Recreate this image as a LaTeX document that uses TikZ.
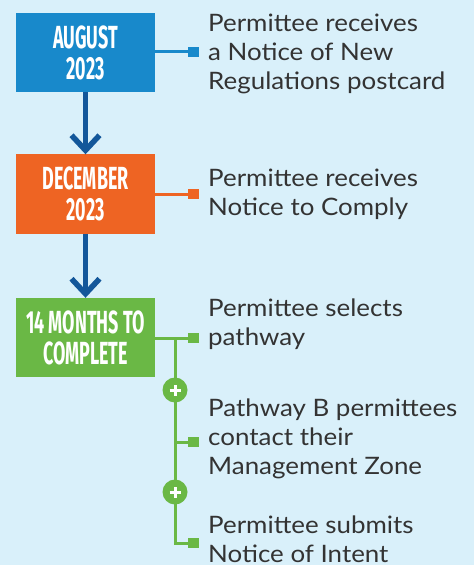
\documentclass[tikz,border=0pt]{standalone}
\usepackage{fontspec}
\setmainfont[FakeStretch=1.08]{Lato}
\newfontfamily\condfont[FakeStretch=0.56]{Fira Sans}
\usetikzlibrary{arrows.meta}
\definecolor{bg}{HTML}{D9F0FA}
\definecolor{cblue}{HTML}{1889CB}
\definecolor{corange}{HTML}{EE6423}
\definecolor{cgreen}{HTML}{6AB845}
\definecolor{carrow}{HTML}{13579A}
\definecolor{ctext}{HTML}{333333}
\tikzset{
  datebox/.style={minimum width=139bp, minimum height=79bp, inner sep=0pt, text=white,
    font=\condfont\bfseries\fontsize{32bp}{31bp}\selectfont, align=center},
  sq/.style={minimum size=10.5bp, inner sep=0pt},
  stepline/.style={line width=3bp},
  flowarrow/.style={line width=5.5bp, carrow, -{Straight Barb[length=15bp,width=28bp]}},
  desc/.style={anchor=base west, inner sep=0pt, text=ctext, font=\fontsize{24bp}{29bp}\selectfont},
  plusnode/.style={circle, fill=cgreen, minimum size=25bp, inner sep=0pt},
}
\newcommand{\blk}[1]{\vtop{\baselineskip=29bp #1}}
\begin{document}
\begin{tikzpicture}[x=1bp,y=-1bp]
\fill[bg] (0,0) rectangle (474,565);
\useasboundingbox (0,0) rectangle (474,565);

% date boxes
\node[datebox, fill=cblue] (b1) at (85.5,52.5) {AUGUST\\2023};
\node[datebox, fill=corange] (b2) at (85.5,194) {DECEMBER\\2023};
\node[datebox, fill=cgreen] (b3) at (85.5,337.5) {14 MONTHS TO\\COMPLETE};

% arrows
\draw[flowarrow] (b1.south) -- (b2.north);
\draw[flowarrow] (b2.south) -- (b3.north);

% squares
\node[sq, fill=cblue] (s1) at (193.5,52) {};
\node[sq, fill=corange] (s2) at (193.5,194) {};
\node[sq, fill=cgreen] (s3) at (193.5,338) {};
\node[sq, fill=cgreen] (s4) at (193.5,442) {};
\node[sq, fill=cgreen] (s5) at (193.5,543) {};

% connectors
\draw[stepline, cblue] (b1.east |- s1) -- (s1.west);
\draw[stepline, corange] (b2.east |- s2) -- (s2.west);
\draw[stepline, cgreen] (b3.east |- s3) -- (s3.west);
\coordinate (j) at (175,338);
\draw[stepline, cgreen] (j) |- (s5.west);
\draw[stepline, cgreen] (j |- s4) -- (s4.west);

% plus circles
\node[plusnode] (p1) at (175,390) {};
\node[plusnode] (p2) at (175,492) {};
\foreach \p in {p1,p2}{
  \draw[white, line width=3bp] ([xshift=-5.5bp]\p.center) -- ([xshift=5.5bp]\p.center);
  \draw[white, line width=3bp] ([yshift=-5.5bp]\p.center) -- ([yshift=5.5bp]\p.center);
}

% descriptions
\node[desc] (t1) at (208,32) {\blk{\hbox{Permittee receives}\hbox{a Notice of New}\hbox{Regulations postcard}}};
\node[desc] (t2) at (208,186) {\blk{\hbox{Permittee receives}\hbox{Notice to Comply}}};
\node[desc] (t3) at (208,316) {\blk{\hbox{Permittee selects}\hbox{pathway}}};
\node[desc] (t4) at (208,416) {\blk{\hbox{Pathway B permittees}\hbox{contact their}\hbox{Management Zone}}};
\node[desc] (t5) at (208,533) {\blk{\hbox{Permittee submits}\hbox{Notice of Intent}}};
\end{tikzpicture}
\end{document}
